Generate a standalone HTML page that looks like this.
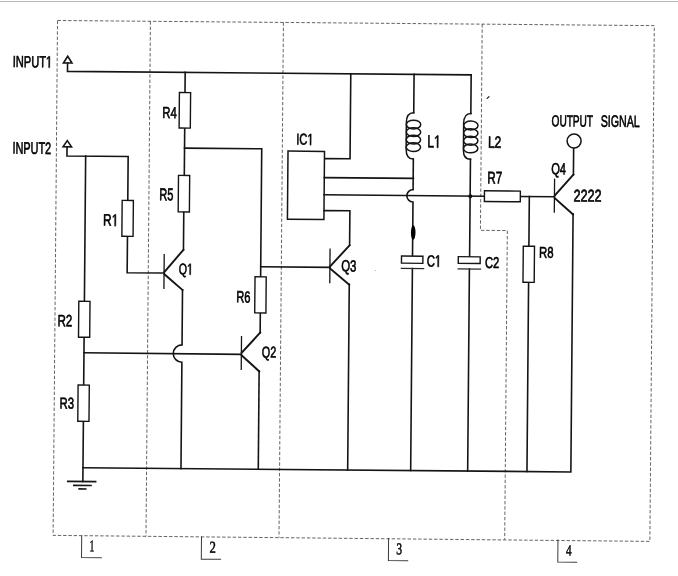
<!DOCTYPE html>
<html><head><meta charset="utf-8"><style>
html,body{margin:0;padding:0;background:#fff;}
svg{display:block;filter:grayscale(1);}
</style></head><body>
<svg width="678" height="576" viewBox="0 0 678 576">
<rect width="678" height="576" fill="#fff"/>
<rect x="0" y="1" width="678" height="1" fill="#b6b5ba"/>
<path d="M487.2,98.4L489,96.6" stroke="#222" stroke-width="1.3" stroke-linecap="round"/>
<circle cx="375.4" cy="270.5" r="0.6" fill="#aaa"/>
<g transform="rotate(0.4927)" stroke-linecap="square">
<path d="M57.7,20.0H654.5L654.5,535.8L57.7,534.9Z" stroke="#4a4a4a" stroke-width="0.85" fill="none" stroke-dasharray="3.4 1.9" stroke-linecap="butt"/>
<line x1="150.6" y1="20" x2="150.6" y2="535.2" stroke="#4a4a4a" stroke-width="0.85" stroke-dasharray="3.4 1.9" stroke-linecap="butt"/>
<line x1="283.6" y1="20" x2="283.6" y2="535.2" stroke="#4a4a4a" stroke-width="0.85" stroke-dasharray="3.4 1.9" stroke-linecap="butt"/>
<path d="M482.4,20.0V226.2H509.3V535.2" stroke="#4a4a4a" stroke-width="0.85" fill="none" stroke-dasharray="3.4 1.9" stroke-linecap="butt"/>
<path d="M86.3,535.2V556.9H106.1" stroke="#3a3a3a" stroke-width="1.0" fill="none" />
<path d="M206.1,535.2V557.4H225.4" stroke="#3a3a3a" stroke-width="1.0" fill="none" />
<path d="M393.2,535.2V557.1H412.5" stroke="#3a3a3a" stroke-width="1.0" fill="none" />
<path d="M562.6,535.2V557.3H581.5" stroke="#3a3a3a" stroke-width="1.0" fill="none" />
<g transform="translate(94.2,550.45) scale(0.5849,1)">
<text font-family='"Liberation Serif", serif' font-size="16.51" fill="#000" stroke="#000" stroke-width="0.5" style="font-kerning:none">1</text>
</g>
<g transform="translate(214.19,550.85) scale(0.7658,1)">
<text font-family='"Liberation Serif", serif' font-size="16.61" fill="#000" stroke="#000" stroke-width="0.5" style="font-kerning:none">2</text>
</g>
<g transform="translate(400.99,550.89) scale(0.7033,1)">
<text font-family='"Liberation Serif", serif' font-size="16.52" fill="#000" stroke="#000" stroke-width="0.5" style="font-kerning:none">3</text>
</g>
<g transform="translate(570.73,550.55) scale(0.7080,1)">
<text font-family='"Liberation Serif", serif' font-size="15.80" fill="#000" stroke="#000" stroke-width="0.5" style="font-kerning:none">4</text>
</g>
<path d="M68.2,55.7L64.0,62.4H72.5Z" stroke="#141414" stroke-width="1.6" fill="#fff" />
<path d="M68.1,62.4V70.8H471.8V109.4" stroke="#141414" stroke-width="1.6" fill="none" />
<line x1="185.8" y1="70.8" x2="185.8" y2="91" stroke="#141414" stroke-width="1.6" />
<path d="M325.8,155.8H351.4V70.8" stroke="#141414" stroke-width="1.6" fill="none" />
<line x1="414.7" y1="70.8" x2="414.7" y2="109.2" stroke="#141414" stroke-width="1.6" />
<path d="M68.5,140.0L64.3,146.2H72.8Z" stroke="#141414" stroke-width="1.6" fill="#fff" />
<path d="M68.3,146.2V155.35H129.5V199.3" stroke="#141414" stroke-width="1.6" fill="none" />
<line x1="87" y1="155.35" x2="87" y2="300.6" stroke="#141414" stroke-width="1.6" />
<path d="M129.5,235.2V271.6H166.4" stroke="#141414" stroke-width="1.6" fill="none" />
<line x1="87" y1="336.5" x2="87" y2="384.3" stroke="#141414" stroke-width="1.6" />
<line x1="87" y1="420.6" x2="87" y2="480.8" stroke="#141414" stroke-width="1.6" />
<line x1="71.1" y1="480.8" x2="100.6" y2="480.8" stroke="#141414" stroke-width="1.6" stroke-linecap="butt"/>
<line x1="77.2" y1="484.7" x2="96" y2="484.7" stroke="#141414" stroke-width="1.6" stroke-linecap="butt"/>
<line x1="82.5" y1="488.2" x2="90.8" y2="488.2" stroke="#141414" stroke-width="1.6" stroke-linecap="butt"/>
<path d="M87,467H574.9V209.2" stroke="#141414" stroke-width="1.6" fill="none" />
<line x1="185.8" y1="126.5" x2="185.8" y2="173.8" stroke="#141414" stroke-width="1.6" />
<path d="M185.8,146.5H263V274.6" stroke="#141414" stroke-width="1.6" fill="none" />
<line x1="185.6" y1="210.3" x2="185.6" y2="248.2" stroke="#141414" stroke-width="1.6" />
<line x1="166.4" y1="253.2" x2="166.4" y2="287" stroke="#141414" stroke-width="1.3" />
<line x1="166.8" y1="270.4" x2="185.6" y2="248.2" stroke="#141414" stroke-width="1.9" />
<line x1="166.8" y1="272.9" x2="185" y2="288.4" stroke="#141414" stroke-width="1.9" />
<path d="M185,288.2V343.3A8.7,8.7 0 0 0 185,360.7V467" stroke="#141414" stroke-width="1.6" fill="none" />
<line x1="87" y1="352" x2="244.4" y2="352.3" stroke="#141414" stroke-width="1.6" />
<line x1="263" y1="310.7" x2="263" y2="330.4" stroke="#141414" stroke-width="1.6" />
<line x1="244.4" y1="334.6" x2="244.4" y2="367.2" stroke="#141414" stroke-width="1.3" />
<line x1="244.8" y1="350.6" x2="263" y2="330.4" stroke="#141414" stroke-width="2.0" />
<line x1="244.8" y1="353.4" x2="262.3" y2="369" stroke="#141414" stroke-width="2.0" />
<line x1="262.3" y1="368.8" x2="262.3" y2="467" stroke="#141414" stroke-width="1.6" />
<line x1="263" y1="264.5" x2="332.2" y2="264.5" stroke="#141414" stroke-width="1.6" />
<rect x="289.3" y="148.6" width="36.5" height="68.2" stroke="#141414" stroke-width="1.5" fill="#fff"/>
<line x1="325.8" y1="174.8" x2="414.9" y2="174.8" stroke="#141414" stroke-width="1.6" />
<line x1="325.8" y1="192" x2="486.1" y2="192" stroke="#141414" stroke-width="1.6" />
<path d="M325.8,207.8H351.7V242.3" stroke="#141414" stroke-width="1.6" fill="none" />
<line x1="332.2" y1="246.4" x2="332.2" y2="279.7" stroke="#141414" stroke-width="1.3" />
<line x1="332.6" y1="263.3" x2="351.7" y2="242.3" stroke="#141414" stroke-width="1.9" />
<line x1="332.6" y1="265.8" x2="351.6" y2="281.6" stroke="#141414" stroke-width="1.9" />
<line x1="351.7" y1="281.4" x2="351.7" y2="467" stroke="#141414" stroke-width="1.6" />
<line x1="414.7" y1="155.4" x2="414.7" y2="186" stroke="#141414" stroke-width="1.6" />
<path d="M414.7,186.0A6.2,6.2 0 0 0 414.7,198.4V252.5" stroke="#141414" stroke-width="1.6" fill="none" />
<ellipse cx="415.2" cy="229" rx="2.3" ry="7.3" fill="#000"/>
<line x1="414.7" y1="265" x2="414.7" y2="467" stroke="#141414" stroke-width="1.6" />
<rect x="403.7" y="252.6" width="21.4" height="7.1" stroke="#141414" stroke-width="1.4" fill="#fff"/>
<line x1="403.7" y1="265" x2="425.9" y2="265" stroke="#2a2a2a" stroke-width="1.3" />
<line x1="471.8" y1="155.2" x2="471.8" y2="252.7" stroke="#141414" stroke-width="1.6" />
<circle cx="472" cy="192.1" r="2.0" fill="#111"/>
<line x1="471.7" y1="265" x2="471.7" y2="467" stroke="#141414" stroke-width="1.6" />
<rect x="460.5" y="252.7" width="21.9" height="6.7" stroke="#141414" stroke-width="1.4" fill="#fff"/>
<line x1="460.5" y1="265" x2="482.8" y2="265" stroke="#2a2a2a" stroke-width="1.3" />
<path d="M414.6,109.2Q407.4,109.2 407.4,119.2V145.4Q407.4,155.4 414.6,155.4" stroke="#141414" stroke-width="1.5" fill="none" />
<ellipse cx="414.6" cy="120.98" rx="7.2" ry="4.38" stroke="#141414" stroke-width="1.5" fill="none"/>
<ellipse cx="414.6" cy="128.53" rx="7.2" ry="4.38" stroke="#141414" stroke-width="1.5" fill="none"/>
<ellipse cx="414.6" cy="136.07" rx="7.2" ry="4.38" stroke="#141414" stroke-width="1.5" fill="none"/>
<ellipse cx="414.6" cy="143.62" rx="7.2" ry="4.38" stroke="#141414" stroke-width="1.5" fill="none"/>
<path d="M471.9,109.4Q464.7,109.4 464.7,119.6V146.2Q464.7,155.2 471.9,155.2" stroke="#141414" stroke-width="1.5" fill="none" />
<ellipse cx="471.9" cy="121.42" rx="7.2" ry="4.42" stroke="#141414" stroke-width="1.5" fill="none"/>
<ellipse cx="471.9" cy="129.07" rx="7.2" ry="4.42" stroke="#141414" stroke-width="1.5" fill="none"/>
<ellipse cx="471.9" cy="136.72" rx="7.2" ry="4.42" stroke="#141414" stroke-width="1.5" fill="none"/>
<ellipse cx="471.9" cy="144.38" rx="7.2" ry="4.42" stroke="#141414" stroke-width="1.5" fill="none"/>
<line x1="522" y1="192" x2="556.1" y2="192" stroke="#141414" stroke-width="1.6" />
<line x1="531" y1="192" x2="531" y2="241.7" stroke="#141414" stroke-width="1.6" />
<line x1="531" y1="277.8" x2="531" y2="467" stroke="#141414" stroke-width="1.6" />
<line x1="556.1" y1="174.5" x2="556.1" y2="207.4" stroke="#141414" stroke-width="1.3" />
<line x1="556.5" y1="190.6" x2="574.9" y2="169.6" stroke="#141414" stroke-width="1.9" />
<line x1="556.5" y1="193.4" x2="574.8" y2="209.4" stroke="#141414" stroke-width="1.9" />
<line x1="574.9" y1="169.8" x2="574.9" y2="143.1" stroke="#141414" stroke-width="1.6" />
<circle cx="575.3" cy="136.1" r="7" stroke="#141414" stroke-width="1.5" fill="#fff"/>
<rect x="123.9" y="199.3" width="11.2" height="35.9" stroke="#141414" stroke-width="1.4" fill="#fff"/>
<rect x="81.4" y="300.6" width="11.2" height="35.9" stroke="#141414" stroke-width="1.4" fill="#fff"/>
<rect x="81.4" y="384.3" width="11.2" height="36.3" stroke="#141414" stroke-width="1.4" fill="#fff"/>
<rect x="180.2" y="91" width="11.2" height="35.5" stroke="#141414" stroke-width="1.4" fill="#fff"/>
<rect x="180" y="173.8" width="11.2" height="36.5" stroke="#141414" stroke-width="1.4" fill="#fff"/>
<rect x="257.4" y="274.6" width="11.2" height="36.1" stroke="#141414" stroke-width="1.4" fill="#fff"/>
<rect x="525.4" y="241.7" width="11.2" height="36.1" stroke="#141414" stroke-width="1.4" fill="#fff"/>
<rect x="486.1" y="186.6" width="35.9" height="10.7" stroke="#141414" stroke-width="1.4" fill="#fff"/>
<g transform="translate(13.3,66.92) scale(0.6927,1)">
<text font-family='"Liberation Sans", sans-serif' font-size="15.98" fill="#000" stroke="#000" stroke-width="0.65" style="font-kerning:none">INPUT&#x2007;</text>
<path d="M51.96,0L51.96,-9.65L49.48,-7.88L49.48,-9.21L52.07,-10.99L53.37,-10.99L53.37,0Z" fill="#000" stroke="#000" stroke-width="0.65"/>
</g>
<g transform="translate(13.72,153.51) scale(0.6575,1)">
<text font-family='"Liberation Sans", sans-serif' font-size="16.60" fill="#000" stroke="#000" stroke-width="0.65" style="font-kerning:none">INPUT2</text>
</g>
<g transform="translate(105.05,224.68) scale(0.7270,1)">
<text font-family='"Liberation Sans", sans-serif' font-size="16.35" fill="#000" stroke="#000" stroke-width="0.65" style="font-kerning:none">R&#x2007;</text>
<path d="M15.92,0L15.92,-9.88L13.38,-8.06L13.38,-9.42L16.04,-11.25L17.37,-11.25L17.37,0Z" fill="#000" stroke="#000" stroke-width="0.65"/>
</g>
<g transform="translate(60.18,325.78) scale(0.7051,1)">
<text font-family='"Liberation Sans", sans-serif' font-size="16.40" fill="#000" stroke="#000" stroke-width="0.65" style="font-kerning:none">R2</text>
</g>
<g transform="translate(63.1,408.02) scale(0.7256,1)">
<text font-family='"Liberation Sans", sans-serif' font-size="15.61" fill="#000" stroke="#000" stroke-width="0.65" style="font-kerning:none">R3</text>
</g>
<g transform="translate(163.3,116.67) scale(0.7080,1)">
<text font-family='"Liberation Sans", sans-serif' font-size="15.92" fill="#000" stroke="#000" stroke-width="0.65" style="font-kerning:none">R4</text>
</g>
<g transform="translate(161.02,198.81) scale(0.6504,1)">
<text font-family='"Liberation Sans", sans-serif' font-size="16.98" fill="#000" stroke="#000" stroke-width="0.65" style="font-kerning:none">R5</text>
</g>
<g transform="translate(238.92,300.32) scale(0.6842,1)">
<text font-family='"Liberation Sans", sans-serif' font-size="16.17" fill="#000" stroke="#000" stroke-width="0.65" style="font-kerning:none">R6</text>
</g>
<g transform="translate(181.12,272.73) scale(0.6920,1)">
<text font-family='"Liberation Sans", sans-serif' font-size="15.32" fill="#000" stroke="#000" stroke-width="0.65" style="font-kerning:none">Q&#x2007;</text>
<path d="M15.77,0L15.77,-9.26L13.39,-7.56L13.39,-8.83L15.89,-10.54L17.13,-10.54L17.13,0Z" fill="#000" stroke="#000" stroke-width="0.65"/>
</g>
<g transform="translate(264.81,355.12) scale(0.6919,1)">
<text font-family='"Liberation Sans", sans-serif' font-size="15.61" fill="#000" stroke="#000" stroke-width="0.65" style="font-kerning:none">Q2</text>
</g>
<g transform="translate(343.49,268.42) scale(0.7041,1)">
<text font-family='"Liberation Sans", sans-serif' font-size="16.17" fill="#000" stroke="#000" stroke-width="0.65" style="font-kerning:none">Q3</text>
</g>
<g transform="translate(552.7,169.62) scale(0.6861,1)">
<text font-family='"Liberation Sans", sans-serif' font-size="16.17" fill="#000" stroke="#000" stroke-width="0.65" style="font-kerning:none">Q4</text>
</g>
<g transform="translate(297.4,142.02) scale(0.7113,1)">
<text font-family='"Liberation Sans", sans-serif' font-size="15.61" fill="#000" stroke="#000" stroke-width="0.65" style="font-kerning:none">IC&#x2007;</text>
<path d="M19.53,0L19.53,-9.43L17.11,-7.7L17.11,-8.99L19.65,-10.74L20.91,-10.74L20.91,0Z" fill="#000" stroke="#000" stroke-width="0.65"/>
</g>
<g transform="translate(428.53,143.68) scale(0.7026,1)">
<text font-family='"Liberation Sans", sans-serif' font-size="17.22" fill="#000" stroke="#000" stroke-width="0.65" style="font-kerning:none">L&#x2007;</text>
<path d="M13.91,0L13.91,-10.4L11.24,-8.49L11.24,-9.92L14.04,-11.85L15.43,-11.85L15.43,0Z" fill="#000" stroke="#000" stroke-width="0.65"/>
</g>
<g transform="translate(489.14,143.48) scale(0.7376,1)">
<text font-family='"Liberation Sans", sans-serif' font-size="16.26" fill="#000" stroke="#000" stroke-width="0.65" style="font-kerning:none">L2</text>
</g>
<g transform="translate(428.95,262.72) scale(0.7001,1)">
<text font-family='"Liberation Sans", sans-serif' font-size="16.17" fill="#000" stroke="#000" stroke-width="0.65" style="font-kerning:none">C&#x2007;</text>
<path d="M15.75,0L15.75,-9.77L13.23,-7.98L13.23,-9.32L15.86,-11.13L17.18,-11.13L17.18,0Z" fill="#000" stroke="#000" stroke-width="0.65"/>
</g>
<g transform="translate(487.26,263.82) scale(0.7093,1)">
<text font-family='"Liberation Sans", sans-serif' font-size="15.75" fill="#000" stroke="#000" stroke-width="0.65" style="font-kerning:none">C2</text>
</g>
<g transform="translate(488.87,179.18) scale(0.6879,1)">
<text font-family='"Liberation Sans", sans-serif' font-size="16.93" fill="#000" stroke="#000" stroke-width="0.65" style="font-kerning:none">R7</text>
</g>
<g transform="translate(541.2,253.12) scale(0.7253,1)">
<text font-family='"Liberation Sans", sans-serif' font-size="15.61" fill="#000" stroke="#000" stroke-width="0.65" style="font-kerning:none">R8</text>
</g>
<g transform="translate(575.09,196.48) scale(0.7421,1)">
<text font-family='"Liberation Sans", sans-serif' font-size="16.97" fill="#000" stroke="#000" stroke-width="0.65" style="font-kerning:none">2222</text>
</g>
<g transform="translate(552.65,121.52) scale(0.6347,1)">
<text font-family='"Liberation Sans", sans-serif' font-size="15.89" fill="#000" stroke="#000" stroke-width="0.65" style="font-kerning:none">OUTPUT</text>
</g>
<g transform="translate(601.84,121.51) scale(0.6442,1)">
<text font-family='"Liberation Sans", sans-serif' font-size="16.45" fill="#000" stroke="#000" stroke-width="0.65" style="font-kerning:none">SIGNAL</text>
</g>
</g>
</svg>
</body></html>
